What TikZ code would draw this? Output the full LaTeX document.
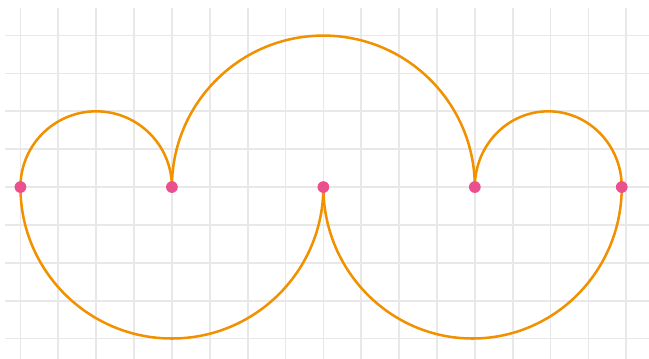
\documentclass[tikz,border=0pt]{standalone}
\usepackage{tikz}
\usetikzlibrary{backgrounds}
\definecolor{GridLine}{HTML}{E8E8E8}
\definecolor{Hop}{HTML}{F29100}
\definecolor{Stop}{HTML}{EC4F8E}

\begin{document}
\begin{tikzpicture}[
      grid/.style={draw=GridLine,line width=1.3pt},
      hop/.style={draw=Hop,line width=1.9pt},
      stop/.style={circle,fill=Stop,inner sep=0pt,minimum size=0.31cm}]
      \useasboundingbox (-0.54,-4.54) rectangle (16.6,4.94);
      \node[stop] (s0) at (0,0) {};
      \node[stop] (s4) at (4,0) {};
      \node[stop] (s8) at (8,0) {};
      \node[stop] (s12) at (12,0) {};
      \node[stop] (s16) at (15.88,0) {};
      \begin{pgfonlayer}{background}
        \foreach \x in {0,...,16} \draw[grid] (\x,-4.54) -- (\x,4.73);
        \foreach \y in {-4,...,4} \draw[grid] (-0.41,\y) -- (16.6,\y);
        \draw[hop] (s0.center) arc[start angle=180,end angle=0,radius=2];
        \draw[hop] (s4.center) arc[start angle=180,end angle=0,radius=4];
        \draw[hop] (s12.center) arc[start angle=180,end angle=0,x radius=1.94,y radius=2];
        \draw[hop] (s0.center) arc[start angle=180,end angle=360,radius=4];
        \draw[hop] (s8.center) arc[start angle=180,end angle=360,x radius=3.94,y radius=4];
      \end{pgfonlayer}
    \end{tikzpicture}
\end{document}
